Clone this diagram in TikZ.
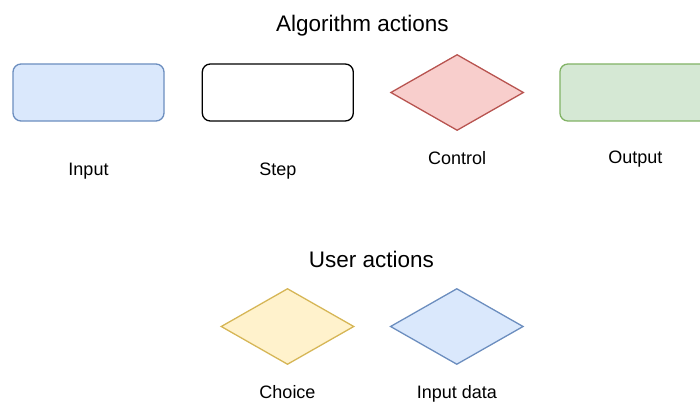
\documentclass[tikz,border=0pt]{standalone}
\usepackage{xcolor}
\usepackage{fontspec}
\setmainfont{Liberation Sans}
\usetikzlibrary{positioning,shapes.geometric}
\definecolor{blueFill}{HTML}{DAE8FC}
\definecolor{blueLine}{HTML}{6C8EBF}
\definecolor{redFill}{HTML}{F8CECC}
\definecolor{redLine}{HTML}{B85450}
\definecolor{greenFill}{HTML}{D5E8D4}
\definecolor{greenLine}{HTML}{82B366}
\definecolor{yellowFill}{HTML}{FFF2CC}
\definecolor{yellowLine}{HTML}{D6B656}
\tikzset{
    box/.style={
        draw,
        rounded corners=8pt,
        line width=1.3pt,
        inner sep=0pt,
        minimum width=151pt,
        minimum height=57pt
    },
    dbox/.style={
        draw,
        diamond,
        line width=1.3pt,
        inner sep=0pt,
        minimum width=133pt,
        minimum height=76pt
    },
    lbl/.style={
        inner sep=0pt,
        text height=13pt,
        text depth=4pt,
        font=\fontsize{18}{22}\selectfont
    },
    ttl/.style={
        inner sep=0pt,
        anchor=base,
        font=\fontsize{22.5}{27}\selectfont
    }
}

\begin{document}
\begin{tikzpicture}[x=1pt, y=-1pt, node distance=35pt]
        \useasboundingbox (0,0) rectangle (700,401);
        % algorithm actions
        \node[ttl] (algotitle) at (362.5,32) {Algorithm actions};
        \node[box, fill=blueFill, draw=blueLine] (input) at (88.5,92.5) {};
        \node[box, right=37pt of input, draw=black, fill=white] (step) {};
        \node[dbox, right=36pt of step, fill=redFill, draw=redLine] (control) {};
        \node[box, right=of control, fill=greenFill, draw=greenLine] (output) {};
        \node[lbl, below=41pt of input] (inputlbl) {Input};
        \node[lbl, below=41pt of step] (steplbl) {Step};
        \node[lbl, below=20pt of control] (controllbl) {Control};
        \node[lbl, below=29pt of output] (outputlbl) {Output};
        % user actions
        \node[ttl] (usertitle) at (371.5,267) {User actions};
        \node[dbox, fill=yellowFill, draw=yellowLine] (choice) at (287.5,326.5) {};
        \node[dbox, right=of choice, fill=blueFill, draw=blueLine] (inputdata) {};
        \node[lbl, below=20pt of choice] (choicelbl) {Choice};
        \node[lbl, below=20pt of inputdata] (inputdatalbl) {Input data};
    \end{tikzpicture}
\end{document}
